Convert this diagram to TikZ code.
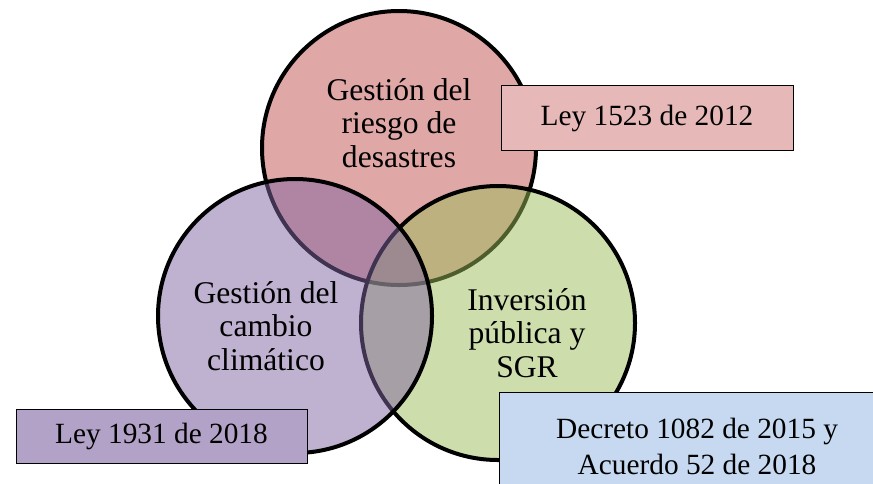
\documentclass[tikz,border=0pt]{standalone}
\usepackage{fontspec}
\setmainfont{Liberation Serif}
\usepackage{tikz}

\definecolor{rojo}{HTML}{C0504D}
\definecolor{verde}{HTML}{9BBB59}
\definecolor{morado}{HTML}{8064A2}
\definecolor{cajarosa}{HTML}{E6B9B8}
\definecolor{cajamorada}{HTML}{B3A2C7}
\definecolor{cajaazul}{HTML}{C6D9F1}

\tikzset{
	circulo/.style={line width=3pt, fill opacity=0.5},
	titulo/.style={align=center, inner sep=0pt, font=\fontsize{23.7}{25}\selectfont},
	caja/.style={draw, line width=0.75pt, inner sep=0pt, align=center, font=\fontsize{22}{27}\selectfont}
}

\begin{document}
\begin{tikzpicture}[x=0.75pt,y=-0.75pt]

	\useasboundingbox (0,0) rectangle (873,483);

	\coordinate (r) at (399,148);
	\coordinate (v) at (498,323);
	\coordinate (m) at (295,316);
	\draw[circulo, fill=rojo] (r) circle[radius=137];
	\draw[circulo, fill=verde] (v) circle[radius=137];
	\draw[circulo, fill=morado] (m) circle[radius=137];

	\node[titulo] (riesgo) at (399,123) {Gestión del\\riesgo de\\desastres};
	\node[titulo] (cambio) at (266,326) {Gestión del\\cambio\\climático};
	\node[titulo] (inversion) at (527,333) {Inversión\\pública y\\SGR};

	\node[caja, fill=cajarosa, minimum width=219pt, minimum height=48.75pt] (ley1523) at (647,118) {Ley 1523 de 2012};
	\node[caja, fill=cajamorada, minimum width=218.25pt, minimum height=40.5pt] (ley1931) at (161.5,436) {Ley 1931 de 2018};
	\node[caja, fill=cajaazul, minimum width=297pt, minimum height=81pt] (decreto) at (697,446) {Decreto 1082 de 2015 y\\Acuerdo 52 de 2018};

\end{tikzpicture}
\end{document}
